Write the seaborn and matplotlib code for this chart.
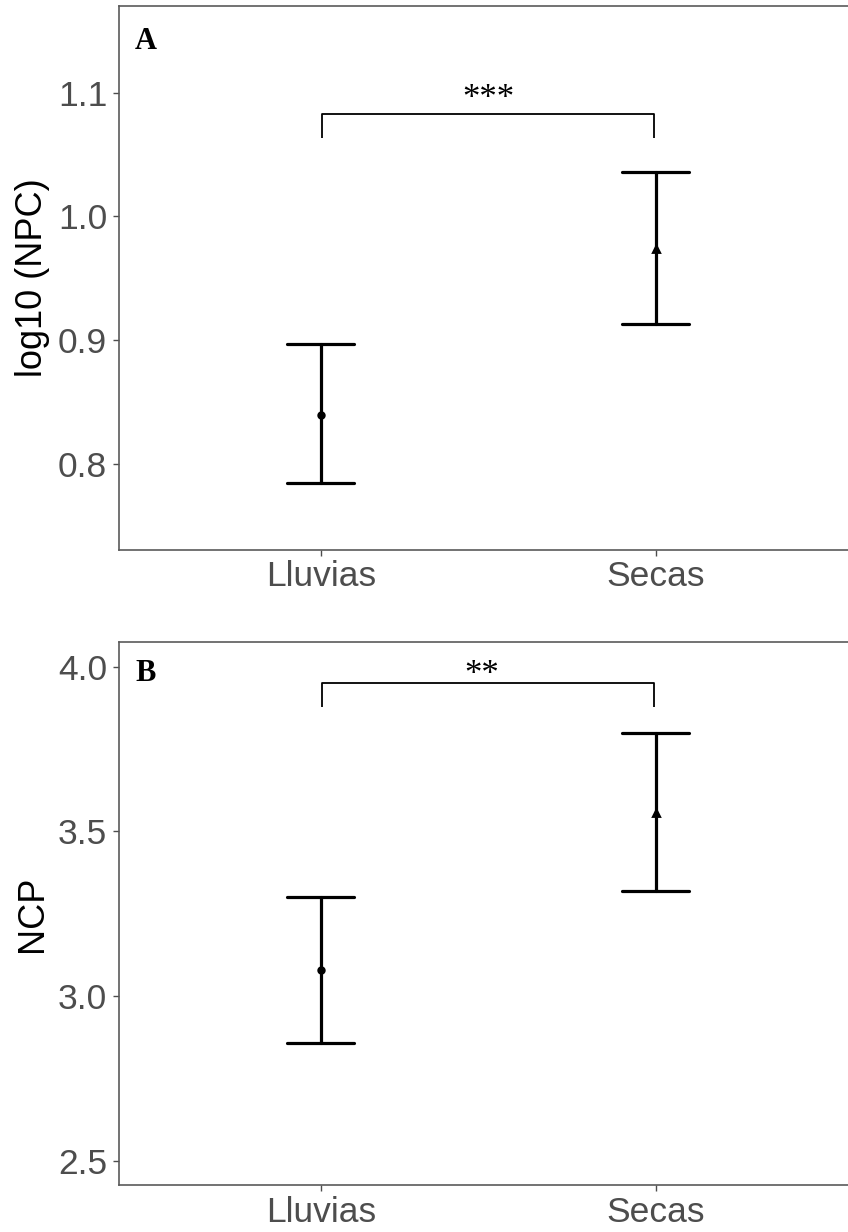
import matplotlib
matplotlib.use("Agg")
import matplotlib.pyplot as plt
import seaborn as sns
import pandas as pd

# ---- data ----
seasons = ["Lluvias", "Secas"]
npc_mean = [0.840, 0.974]
npc_low = [0.785, 0.913]
npc_high = [0.897, 1.036]
ncp_mean = [3.079, 3.556]
ncp_low = [2.856, 3.318]
ncp_high = [3.302, 3.800]
sig_a = "***"
sig_b = "**"

sns.set_theme(style="white")
plt.rcParams["font.family"] = ["Liberation Sans", "DejaVu Sans"]


def make_df(low, mean, high):
    rows = []
    for s, lo, m, hi in zip(seasons, low, mean, high):
        for v in (lo, m, hi):
            rows.append({"season": s, "value": v})
    return pd.DataFrame(rows)


fig = plt.figure(figsize=(8.48, 12.32), dpi=100)
W, H = 848, 1232
left = 119 / W
width = 738 / W
axA = fig.add_axes([left, 1 - 550 / H, width, 544 / H])
axB = fig.add_axes([left, 1 - 1185.3 / H, width, 543.6 / H])


def draw(ax, low, mean, high, ylim, yticks, ylabel, bar_y, leg_y, sig, sig_x, sig_y, letter, letter_y):
    df = make_df(low, mean, high)
    sns.pointplot(data=df, x="season", y="value", hue="season", order=seasons,
                  hue_order=seasons, palette=["black", "black"], markers=["o", "^"],
                  estimator="median", errorbar=lambda v: (v.min(), v.max()),
                  capsize=0.2, linestyle="none", err_kws={"linewidth": 2.3},
                  markersize=4, legend=False, ax=ax)
    ax.set_xlim(-0.602, 1.6)
    ax.set_ylim(*ylim)
    ax.set_yticks(yticks)
    ax.set_yticklabels([f"{t:.1f}" for t in yticks])
    ax.set_xlabel("")
    ax.set_ylabel(ylabel, fontsize=26, color="black")
    ax.yaxis.label.set_va("center")
    ax.yaxis.set_label_coords(-0.117, 0.5)
    ax.tick_params(axis="both", labelsize=25.5, labelcolor="#4D4D4D", colors="#4D4D4D",
                   length=4.5, width=1.0, left=True, bottom=True)
    ax.tick_params(axis="y", pad=4)
    ax.tick_params(axis="x", pad=3)
    for sp in ax.spines.values():
        sp.set_visible(True)
        sp.set_color("#5A5A5A")
        sp.set_linewidth(1.2)
    # significance bracket
    ax.plot([0.005, 0.005, 0.995, 0.995], [leg_y, bar_y, bar_y, leg_y], color="black",
            lw=1.3, solid_capstyle="butt")
    ax.text(sig_x, sig_y, sig, ha="center", va="center", fontsize=25,
            family=["Liberation Serif", "DejaVu Serif"], color="black")
    ax.text(0.0217, letter_y, letter, transform=ax.transAxes, ha="left", va="center",
            fontsize=22, fontweight="bold", family=["Liberation Serif", "DejaVu Serif"],
            color="black")


draw(axA, npc_low, npc_mean, npc_high, (0.7306, 1.170), [0.8, 0.9, 1.0, 1.1],
     "log10 (NPC)", 1.0826, 1.063, sig_a, 0.5, 1.0945, "A", 0.935)
draw(axB, ncp_low, ncp_mean, ncp_high, (2.425, 4.076), [2.5, 3.0, 3.5, 4.0],
     "NCP", 3.951, 3.879, sig_b, 0.48, 3.972, "B", 0.942)

fig.savefig("out.png", dpi=100)
